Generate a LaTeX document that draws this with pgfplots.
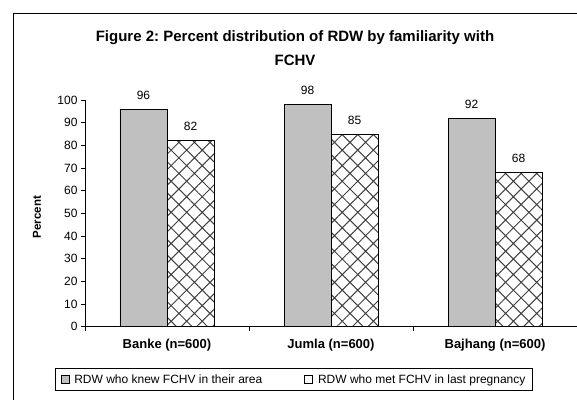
\documentclass[border=0pt]{standalone}
\usepackage{fontspec}
\setmainfont{Liberation Sans}
\usepackage{pgfplots}
\pgfplotsset{compat=1.18}
\usetikzlibrary{patterns.meta}
\definecolor{barGray}{HTML}{C0C0C0}
\frenchspacing

\begin{document}
\begin{tikzpicture}
\useasboundingbox (0pt,0pt) rectangle (577pt,399pt);
\draw[line width=1.2pt] (13.3pt,-5pt) -- (13.3pt,385.7pt) -- (600pt,385.7pt);
\node[font=\bfseries\fontsize{15}{24}\selectfont, align=center] at (295pt,351pt)
  {Figure 2: Percent distribution of RDW by familiarity with\\FCHV};
\begin{axis}[
  at={(85pt,72.3pt)}, anchor=south west,
  scale only axis, width=492pt, height=226.7pt,
  xmin=-0.5, xmax=2.5, ymin=0, ymax=100,
  axis x line*=bottom, axis y line*=left,
  axis line style={-, line width=0.8pt, black},
  ytick={0,10,...,100},
  tick align=outside, major tick length=4pt, minor tick length=4pt,
  tick style={black, line width=0.8pt},
  xtick={0,1,2},
  xticklabels={Banke (n=600), Jumla (n=600), Bajhang (n=600)},
  minor xtick={-0.5,0.5,1.5,2.5},
  major x tick style={draw=none},
  xticklabel style={font=\bfseries\fontsize{13}{15}\selectfont, yshift=-5pt},
  yticklabel style={font=\fontsize{12}{14}\selectfont},
  /pgf/number format/assume math mode=true,
  ylabel={Percent},
  ylabel style={font=\bfseries\fontsize{11.5}{13}\selectfont, at={(axis description cs:-0.0976,0.484)}, anchor=center},
  nodes near coords,
  every node near coord/.append style={font=\fontsize{12}{14}\selectfont, yshift=6pt, black},
  ybar, bar width=0.2866,
  clip=false,
  legend columns=2,
  legend style={at={(axis description cs:0.4248,-0.233)}, anchor=center, draw=black, line width=0.8pt,
    font=\fontsize{12}{14}\selectfont, inner xsep=5pt, inner ysep=4pt,
    /tikz/every even column/.append style={column sep=40pt}},
]
\addplot[ybar, bar shift=-0.1433, fill=barGray, draw=black, line width=0.8pt,
  legend image code/.code={\draw[black, fill=barGray, line width=0.6pt] (0pt,-4pt) rectangle (8pt,4pt); \path (11pt,0pt);}]
  coordinates {(0,96) (1,98) (2,92)};
\addlegendentry{RDW who knew FCHV in their area}
\addplot[ybar, bar shift=0.1433, draw=black, line width=0.8pt,
  pattern={Hatch[angle=45,distance=11pt,line width=1pt]}, pattern color=black!75,
  legend image code/.code={\draw[black, fill=white, line width=0.6pt] (0pt,-4pt) rectangle (8pt,4pt); \path (11pt,0pt);}]
  coordinates {(0,82) (1,85) (2,68)};
\addlegendentry{RDW who met FCHV in last pregnancy}
\end{axis}
\end{tikzpicture}
\end{document}
